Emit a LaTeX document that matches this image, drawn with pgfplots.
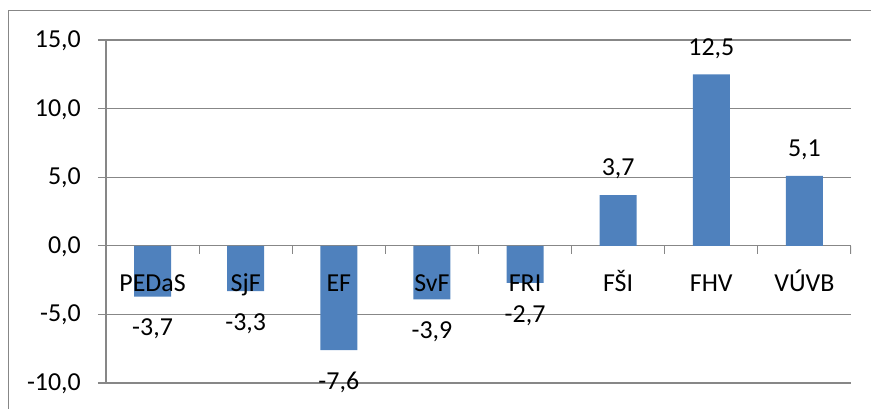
\documentclass[border=0pt]{standalone}
\usepackage{fontspec}
\setmainfont{Carlito}
\usepackage{pgfplots}
\pgfplotsset{compat=1.18}
\definecolor{gridc}{HTML}{878787}
\definecolor{barc}{HTML}{4F81BD}
\newcommand{\lbl}{\fontsize{26}{30}\selectfont}
\pgfplotsset{frame/.style={
  at={(106bp,26bp)}, anchor=south west,
  scale only axis, width=745bp, height=343bp,
  xmin=-0.5, xmax=7.5, ymin=-10, ymax=15}}

\begin{document}
\begin{tikzpicture}
\useasboundingbox (0,0) rectangle (871bp,409bp);
% chart area border (only top and left visible)
\draw[gridc, line width=1.5bp] (8.5bp,0) -- (8.5bp,398.5bp) -- (871bp,398.5bp);
\begin{axis}[
  frame,
  axis x line=bottom, axis y line=left,
  axis line style={gridc, line width=1.2bp, -},
  ymajorgrids, grid style={gridc, line width=1.2bp},
  ytick={-10,-5,0,5,10,15},
  xtick=\empty,
  tick align=outside,
  major tick length=8bp,
  ytick style={gridc, line width=1.2bp},
  yticklabel style={font=\lbl, anchor=base east, inner sep=0pt, xshift=-17bp, yshift=-7.5bp},
  /pgf/number format/fixed,
  /pgf/number format/fixed zerofill,
  /pgf/number format/precision=1,
  /pgf/number format/use comma,
  /pgf/number format/assume math mode=true,
  ybar, bar width=37bp, bar shift=0pt,
  nodes near coords,
  every node near coord/.append style={font=\lbl, inner sep=0pt, text height=17bp, text depth=0bp},
]
\addplot[fill=barc, draw=none, nodes near coords style={anchor=north, yshift=-22bp}]
  coordinates {(0,-3.7) (1,-3.3) (2,-7.6) (3,-3.9) (4,-2.7)};
\addplot[fill=barc, draw=none, nodes near coords style={anchor=south, yshift=19bp}]
  coordinates {(5,3.7) (6,12.5) (7,5.1)};
% small tick marks on the zero line between categories
\pgfplotsinvokeforeach{-0.5,0.5,1.5,2.5,3.5,4.5,5.5,6.5,7.5}{
  \draw[gridc, line width=1.2bp] (axis cs:#1,0) -- ([yshift=-8bp]axis cs:#1,0);
}
\end{axis}
% category names, drawn over the bars
\begin{axis}[
  frame,
  axis x line=bottom, axis y line=none,
  x axis line style={draw=none},
  xtick style={draw=none},
  xtick={0,...,7},
  xticklabels={PEDaS,SjF,EF,SvF,FRI,FŠI,FHV,VÚVB},
  xticklabel style={font=\lbl, anchor=base, inner sep=0pt, yshift=94bp},
]
\end{axis}
\end{tikzpicture}
\end{document}
